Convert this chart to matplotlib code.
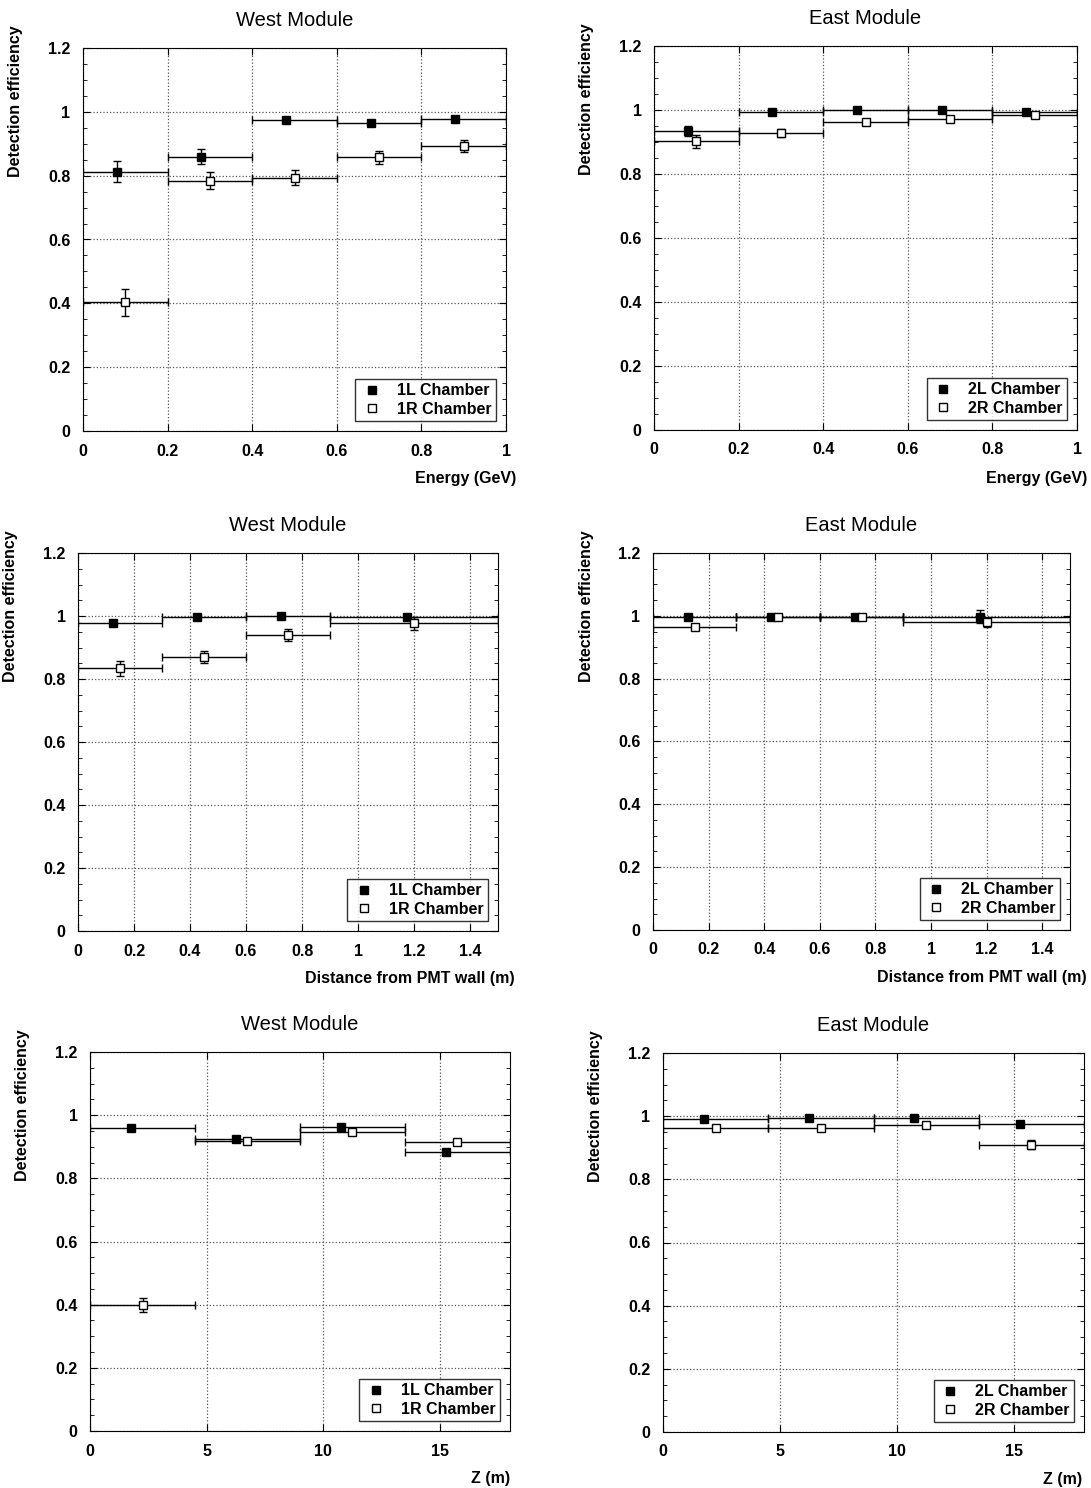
import matplotlib
matplotlib.use("Agg")
import matplotlib.pyplot as plt
from matplotlib.lines import Line2D
from matplotlib.ticker import MultipleLocator, FuncFormatter

plt.rcParams['font.family'] = ['Liberation Sans', 'DejaVu Sans']

# ---- data ----
# energy panels (GeV)
e_edges = [0, 0.2, 0.4, 0.6, 0.8, 1.0]
e_west_fx = [0.08, 0.28, 0.48, 0.68, 0.88]
e_west_fy = [0.813, 0.860, 0.975, 0.965, 0.978]
e_west_fe = [0.034, 0.023, 0.008, 0.008, 0.008]
e_west_ox = [0.1, 0.3, 0.5, 0.7, 0.9]
e_west_oy = [0.403, 0.784, 0.794, 0.857, 0.893]
e_west_oe = [0.043, 0.027, 0.024, 0.021, 0.019]

e_east_fx = [0.08, 0.28, 0.48, 0.68, 0.88]
e_east_fy = [0.935, 0.995, 1.0, 1.0, 0.995]
e_east_fe = [0.015, 0.008, 0.005, 0.005, 0.005]
e_east_ox = [0.1, 0.3, 0.5, 0.7, 0.9]
e_east_oy = [0.902, 0.928, 0.962, 0.973, 0.983]
e_east_oe = [0.020, 0.013, 0.008, 0.008, 0.008]

# distance panels (m)
d_edges = [0, 0.3, 0.6, 0.9, 1.5]
d_west_fx = [0.125, 0.425, 0.725, 1.175]
d_west_fy = [0.977, 0.996, 0.999, 0.998]
d_west_fe = [0.005, 0.005, 0.005, 0.005]
d_west_ox = [0.15, 0.45, 0.75, 1.2]
d_west_oy = [0.834, 0.870, 0.940, 0.977]
d_west_oe = [0.024, 0.020, 0.020, 0.020]

d_east_fx = [0.125, 0.425, 0.725, 1.175]
d_east_fy = [0.997, 0.997, 0.997, 0.997]
d_east_fe = [0.005, 0.005, 0.005, 0.020]
d_east_ox = [0.15, 0.45, 0.75, 1.2]
d_east_oy = [0.964, 0.997, 0.997, 0.979]
d_east_oe = [0.008, 0.005, 0.005, 0.015]

# z panels (m)
z_edges = [0, 4.5, 9, 13.5, 18]
z_west_fx = [1.75, 6.25, 10.75, 15.25]
z_west_fy = [0.959, 0.926, 0.963, 0.882]
z_west_fe = [0.005, 0.005, 0.005, 0.008]
z_west_ox = [2.25, 6.75, 11.25, 15.75]
z_west_oy = [0.400, 0.918, 0.947, 0.915]
z_west_oe = [0.022, 0.010, 0.010, 0.010]

z_east_fx = [1.75, 6.25, 10.75, 15.25]
z_east_fy = [0.991, 0.995, 0.995, 0.975]
z_east_fe = [0.005, 0.005, 0.005, 0.005]
z_east_ox = [2.25, 6.75, 11.25, 15.75]
z_east_oy = [0.964, 0.964, 0.972, 0.910]
z_east_oe = [0.005, 0.005, 0.005, 0.015]


def bin_err(xs, edges):
    lo = [x - edges[i] for i, x in enumerate(xs)]
    hi = [edges[i + 1] - x for i, x in enumerate(xs)]
    return [lo, hi]


def fmt(v, pos):
    return '%g' % round(v, 3)


W, H = 1091, 1488


def panel(box, title, xlabel, xlab_x, xlim, xstep, edges, fx, fy, fe, ox, oy, oe, names):
    l, r, t, b = box
    ax = plt.gcf().add_axes([l / W, 1 - b / H, (r - l) / W, (b - t) / H])
    ax.errorbar(fx, fy, yerr=fe, xerr=bin_err(fx, edges), fmt='s', color='black',
                mfc='black', mec='black', ms=6, elinewidth=1, capsize=3)
    ax.errorbar(ox, oy, yerr=oe, xerr=bin_err(ox, edges), fmt='s', color='black',
                mfc='white', mec='black', ms=6, elinewidth=1, capsize=3)
    ax.set_xlim(*xlim)
    ax.set_ylim(0, 1.2)
    ax.xaxis.set_major_locator(MultipleLocator(xstep))
    ax.yaxis.set_major_locator(MultipleLocator(0.2))
    ax.yaxis.set_minor_locator(MultipleLocator(0.05))
    ax.xaxis.set_major_formatter(FuncFormatter(fmt))
    ax.yaxis.set_major_formatter(FuncFormatter(fmt))
    ax.tick_params(which='both', direction='in', top=True, right=True)
    ax.tick_params(which='major', length=5, labelsize=11.5, pad=9)
    ax.tick_params(which='minor', length=3)
    for lab in ax.get_xticklabels() + ax.get_yticklabels():
        lab.set_fontweight('bold')
    ax.grid(True, which='major', linestyle=':', color='#555555', linewidth=0.9)
    ax.set_axisbelow(True)
    ax.set_title(title, fontsize=14.5, pad=16)
    ax.text(xlab_x, -0.125, xlabel, transform=ax.transAxes, ha='right', va='center',
            fontsize=11.5, fontweight='bold')
    ax.text(-0.16, 1.06, 'Detection efficiency', transform=ax.transAxes, rotation=90,
            ha='center', va='top', fontsize=11.5, fontweight='bold')
    handles = [Line2D([], [], ls='none', marker='s', ms=6, mfc='black', mec='black'),
               Line2D([], [], ls='none', marker='s', ms=6, mfc='white', mec='black')]
    leg = ax.legend(handles, names, loc='lower right', frameon=True, fancybox=False,
                    edgecolor='black', borderaxespad=0.6, handletextpad=0.8,
                    handlelength=1.5, borderpad=0.3, labelspacing=0.2,
                    prop={'weight': 'bold', 'size': 11.5})
    leg.get_frame().set_linewidth(1.0)
    return ax


fig = plt.figure(figsize=(W / 100, H / 100), dpi=100)

panel((83, 506, 48, 431), 'West Module', 'Energy (GeV)', 1.025, (0, 1), 0.2, e_edges,
      e_west_fx, e_west_fy, e_west_fe, e_west_ox, e_west_oy, e_west_oe,
      ['1L Chamber', '1R Chamber'])
panel((654, 1077, 46, 430), 'East Module', 'Energy (GeV)', 1.025, (0, 1), 0.2, e_edges,
      e_east_fx, e_east_fy, e_east_fe, e_east_ox, e_east_oy, e_east_oe,
      ['2L Chamber', '2R Chamber'])
panel((78, 498, 553, 931), 'West Module', 'Distance from PMT wall (m)', 1.04, (0, 1.5), 0.2,
      d_edges, d_west_fx, d_west_fy, d_west_fe, d_west_ox, d_west_oy, d_west_oe,
      ['1L Chamber', '1R Chamber'])
panel((653, 1070, 553, 930), 'East Module', 'Distance from PMT wall (m)', 1.04, (0, 1.5), 0.2,
      d_edges, d_east_fx, d_east_fy, d_east_fe, d_east_ox, d_east_oy, d_east_oe,
      ['2L Chamber', '2R Chamber'])
panel((90, 510, 1052, 1431), 'West Module', 'Z (m)', 1.0, (0, 18), 5, z_edges,
      z_west_fx, z_west_fy, z_west_fe, z_west_ox, z_west_oy, z_west_oe,
      ['1L Chamber', '1R Chamber'])
panel((663, 1084, 1053, 1432), 'East Module', 'Z (m)', 0.995, (0, 18), 5, z_edges,
      z_east_fx, z_east_fy, z_east_fe, z_east_ox, z_east_oy, z_east_oe,
      ['2L Chamber', '2R Chamber'])

fig.savefig('out.png', dpi=100)
